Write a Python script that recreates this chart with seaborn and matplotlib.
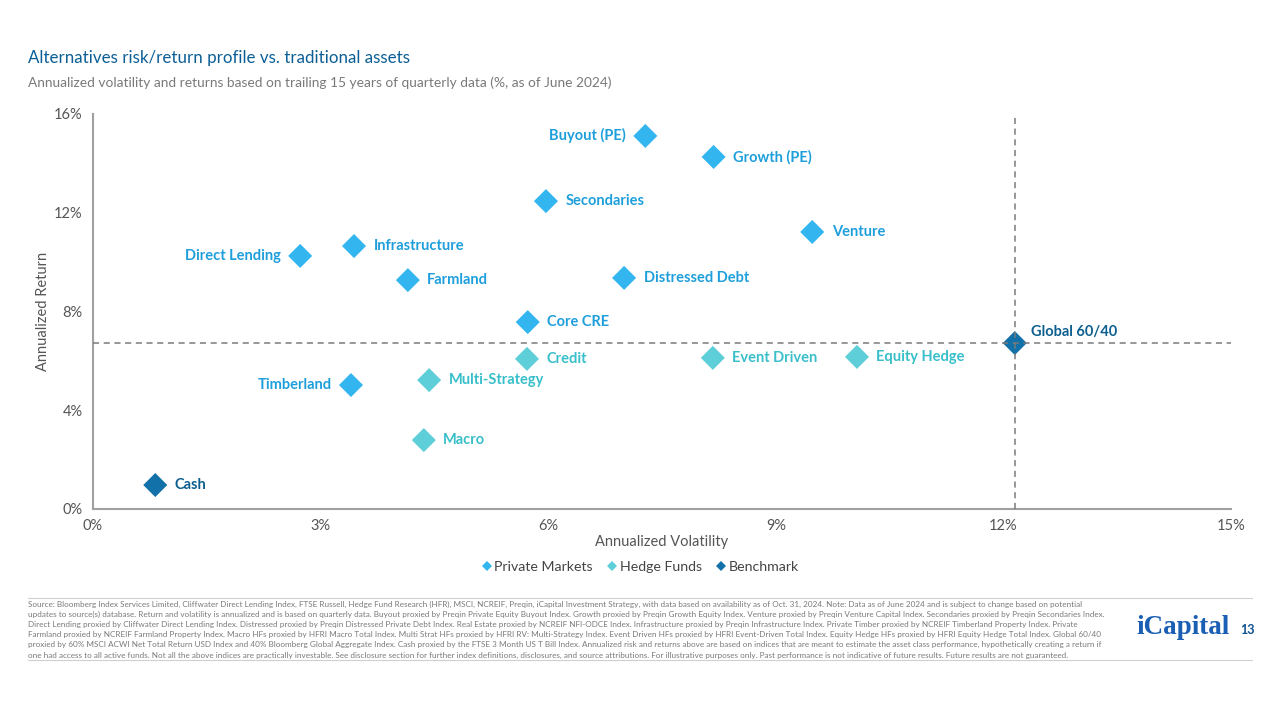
import matplotlib
matplotlib.use("Agg")
import matplotlib.pyplot as plt
from matplotlib.lines import Line2D
from matplotlib.ticker import FuncFormatter
import seaborn as sns
import pandas as pd

# ---------------- data ----------------
names = ["Buyout (PE)", "Growth (PE)", "Secondaries", "Venture", "Infrastructure",
         "Direct Lending", "Farmland", "Distressed Debt", "Core CRE", "Timberland",
         "Credit", "Event Driven", "Equity Hedge", "Multi-Strategy", "Macro",
         "Global 60/40", "Cash"]
volatility = [7.28, 8.18, 5.97, 9.48, 3.44, 2.73, 4.15, 7.00, 5.73, 3.40,
              5.72, 8.17, 10.07, 4.43, 4.36, 12.15, 0.82]
returns = [15.11, 14.26, 12.47, 11.22, 10.65, 10.25, 9.27, 9.36, 7.57, 5.02,
           6.08, 6.12, 6.16, 5.22, 2.79, 6.72, 0.97]
groups = ["Private Markets"] * 10 + ["Hedge Funds"] * 5 + ["Benchmark"] * 2
label_side = ["left", "right", "right", "right", "right", "left", "right", "right", "right", "left",
              "right", "right", "right", "right", "right", "above", "right"]

group_order = ["Private Markets", "Hedge Funds", "Benchmark"]
marker_colors = {"Private Markets": "#33B5F0", "Hedge Funds": "#5ECFD8", "Benchmark": "#1271A8"}
label_colors = {"Private Markets": "#1E9FDC", "Hedge Funds": "#38BFCA", "Benchmark": "#0D5F8F"}

x_ticks = [0, 3, 6, 9, 12, 15]
y_ticks = [0, 4, 8, 12, 16]

df = pd.DataFrame({"name": names, "vol": volatility, "ret": returns, "group": groups, "side": label_side})

# ---------------- figure ----------------
sns.set_style("white")
plt.rcParams["font.family"] = ["Lato", "DejaVu Sans"]

fig = plt.figure(figsize=(12.8, 7.2), dpi=100)
ax = fig.add_axes([0.0727, 0.2931, 0.889, 0.5486])

sns.scatterplot(data=df, x="vol", y="ret", hue="group", hue_order=group_order,
                palette=marker_colors, marker="D", s=150, linewidth=0,
                legend=False, ax=ax, zorder=3)

bench = df[df["name"] == "Global 60/40"].iloc[0]
ax.axhline(bench["ret"], color="#7a7a7a", lw=1.1, ls=(0, (4, 3)), zorder=4)
ax.axvline(bench["vol"], color="#7a7a7a", lw=1.1, ls=(0, (4, 3)), zorder=4)

for _, r in df.iterrows():
    col = label_colors[r["group"]]
    if r["side"] == "right":
        off, ha, va = (14, 0), "left", "center"
    elif r["side"] == "left":
        off, ha, va = (-14, 0), "right", "center"
    else:
        off, ha, va = (12, 8), "left", "center"
    ax.annotate(r["name"], (r["vol"], r["ret"]), xytext=off, textcoords="offset points",
                ha=ha, va=va, fontsize=10.5, fontweight="bold", color=col, zorder=5)

ax.set_xlim(0, 15)
ax.set_ylim(0, 16)
ax.set_xticks(x_ticks)
ax.set_yticks(y_ticks)
ax.xaxis.set_major_formatter(FuncFormatter(lambda v, p: f"{v:.0f}%"))
ax.yaxis.set_major_formatter(FuncFormatter(lambda v, p: f"{v:.0f}%"))
for s in ["top", "right"]:
    ax.spines[s].set_visible(False)
for s in ["left", "bottom"]:
    ax.spines[s].set_color("#a0a0a0")
    ax.spines[s].set_linewidth(1.5)
ax.tick_params(axis="both", length=4, width=1, color="#a0a0a0", labelsize=10.5,
               labelcolor="#555555", direction="out")
ax.set_xlabel("Annualized Volatility", fontsize=10.5, color="#555555", labelpad=1)
ax.set_ylabel("Annualized Return", fontsize=10.5, color="#555555", labelpad=3)

handles = [Line2D([0], [0], marker="D", color="none", markerfacecolor=marker_colors[g],
                  markeredgewidth=0, markersize=5, label=g) for g in group_order]
fig.legend(handles=handles, loc="center", bbox_to_anchor=(0.5, 1 - 567 / 720), ncol=3,
           frameon=False, fontsize=10.2, handletextpad=0.1, columnspacing=1.0,
           handlelength=0.8, labelcolor="#444444")

# titles
fig.text(28 / 1280, 1 - 58 / 720, "Alternatives risk/return profile vs. traditional assets",
         fontsize=12.2, color="#0B5E96", va="center", ha="left")
fig.text(28 / 1280, 1 - 83 / 720,
         "Annualized volatility and returns based on trailing 15 years of quarterly data (%, as of June 2024)",
         fontsize=9.9, color="#7a7a7a", va="center", ha="left")

# footer
footer = [
    "Source: Bloomberg Index Services Limited, Cliffwater Direct Lending Index, FTSE Russell, Hedge Fund Research (HFR), MSCI, NCREIF, Preqin, iCapital Investment Strategy, with data based on availability as of Oct. 31, 2024. Note: Data as of June 2024 and is subject to change based on potential",
    "updates to source(s) database. Return and volatility is annualized and is based on quarterly data. Buyout proxied by Preqin Private Equity Buyout Index. Growth proxied by Preqin Growth Equity Index. Venture proxied by Preqin Venture Capital Index. Secondaries proxied by Preqin Secondaries Index.",
    "Direct Lending proxied by Cliffwater Direct Lending Index. Distressed proxied by Preqin Distressed Private Debt Index. Real Estate proxied by NCREIF NFI-ODCE Index. Infrastructure proxied by Preqin Infrastructure Index. Private Timber proxied by NCREIF Timberland Property Index. Private",
    "Farmland proxied by NCREIF Farmland Property Index. Macro HFs proxied by HFRI Macro Total Index. Multi Strat HFs proxied by HFRI RV: Multi-Strategy Index. Event Driven HFs proxied by HFRI Event-Driven Total Index. Equity Hedge HFs proxied by HFRI Equity Hedge Total Index. Global 60/40",
    "proxied by 60% MSCI ACWI Net Total Return USD Index and 40% Bloomberg Global Aggregate Index. Cash proxied by the FTSE 3 Month US T Bill Index. Annualized risk and returns above are based on indices that are meant to estimate the asset class performance, hypothetically creating a return if",
    "one had access to all active funds. Not all the above indices are practically investable. See disclosure section for further index definitions, disclosures, and source attributions. For illustrative purposes only. Past performance is not indicative of future results. Future results are not guaranteed.",
]
for i, line in enumerate(footer):
    fig.text(28 / 1280, 1 - (604.5 + i * 10.1) / 720, line, fontsize=5.88, color="#7a7a7a",
             va="center", ha="left")

fig.add_artist(Line2D([28 / 1280, 1252 / 1280], [1 - 598 / 720] * 2, color="#d0d0d0", lw=0.8))
fig.add_artist(Line2D([28 / 1280, 1252 / 1280], [1 - 660 / 720] * 2, color="#d0d0d0", lw=0.8))

fig.text(1136 / 1280, 1 - 628 / 720, "iCapital", fontsize=19.5, fontweight="bold", color="#1A5FB4",
         family=["Liberation Serif", "DejaVu Serif"], va="center", ha="left")
fig.text(1240 / 1280, 1 - 630 / 720, "13", fontsize=9, fontweight="bold", color="#0D4F8F",
         va="center", ha="left")

fig.savefig("out.png", dpi=100, facecolor="white")
